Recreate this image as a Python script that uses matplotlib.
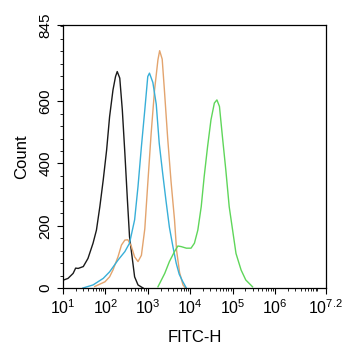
import numpy as np
import matplotlib
matplotlib.use('Agg')
import matplotlib.pyplot as plt
from matplotlib.ticker import FixedLocator, NullFormatter, MultipleLocator

plt.rcParams['font.family'] = ['Liberation Sans', 'DejaVu Sans']
plt.rcParams['mathtext.default'] = 'regular'

# histogram traces: log10(FITC-H) and count
black_log = [1.00, 1.12, 1.24, 1.30, 1.36, 1.48, 1.59, 1.71, 1.79, 1.87, 1.95, 2.03, 2.10, 2.18, 2.24,
             2.28, 2.34, 2.40, 2.46, 2.52, 2.57, 2.64, 2.69, 2.77, 2.89]
black_cnt = [25, 31, 47, 64, 63, 69, 95, 144, 186, 261, 347, 443, 550, 636, 679,
             695, 674, 572, 433, 283, 165, 90, 36, 10, 0]

cyan_log = [1.47, 1.71, 1.95, 2.10, 2.30, 2.46, 2.57, 2.69, 2.77, 2.85, 2.93, 3.00, 3.04, 3.12,
            3.20, 3.27, 3.35, 3.43, 3.51, 3.59, 3.67, 3.74, 3.82, 3.91]
cyan_cnt = [0, 10, 31, 52, 90, 117, 144, 219, 326, 454, 572, 679, 690, 660,
            590, 465, 370, 280, 195, 135, 80, 45, 22, 0]

orange_log = [1.75, 1.99, 2.10, 2.18, 2.30, 2.38, 2.46, 2.53, 2.61, 2.69, 2.77, 2.85, 2.93, 3.00,
              3.08, 3.16, 3.24, 3.28, 3.34, 3.39, 3.47, 3.55, 3.63, 3.68, 3.75, 3.83, 3.89]
orange_cnt = [5, 20, 36, 58, 101, 138, 154, 155, 135, 100, 85, 105, 190, 335,
              497, 636, 733, 762, 735, 640, 480, 340, 220, 120, 50, 10, 0]

green_log = [3.24, 3.40, 3.51, 3.63, 3.71, 3.79, 3.91, 4.02, 4.10, 4.18, 4.26, 4.33, 4.41, 4.49,
             4.57, 4.63, 4.69, 4.76, 4.84, 4.92, 5.00, 5.08, 5.20, 5.31, 5.47]
green_cnt = [4, 47, 85, 117, 135, 133, 128, 128, 144, 186, 261, 358, 454, 540,
             594, 604, 583, 486, 379, 261, 186, 111, 58, 26, 4]

xtick_exp = [1, 2, 3, 4, 5, 6, 7.2]
ytick_vals = [0, 200, 400, 600, 845]

fig = plt.figure(figsize=(3.42, 3.5), dpi=100)
ax = fig.add_axes([0.184, 0.177, 0.769, 0.752])

ax.plot(10 ** np.array(black_log), black_cnt, color='#1a1a1a', lw=1.0)
ax.plot(10 ** np.array(orange_log), orange_cnt, color='#e3a46e', lw=1.0)
ax.plot(10 ** np.array(cyan_log), cyan_cnt, color='#38afd8', lw=1.0)
ax.plot(10 ** np.array(green_log), green_cnt, color='#5fd65a', lw=1.0)

ax.set_xscale('log')
ax.set_xlim(10 ** 1, 10 ** 7.2)
ax.set_ylim(0, 845)

ax.xaxis.set_major_locator(FixedLocator([10 ** e for e in xtick_exp]))
ax.set_xticklabels(['$10^{%s}$' % (int(e) if e == int(e) else e) for e in xtick_exp])
ax.xaxis.set_minor_locator(FixedLocator([m * 10 ** d for d in range(1, 7) for m in range(2, 11)]))
ax.xaxis.set_minor_formatter(NullFormatter())

ax.set_yticks(ytick_vals)
ax.set_yticklabels([str(v) for v in ytick_vals], rotation=90, va='center')
ax.yaxis.set_minor_locator(MultipleLocator(40))

ax.tick_params(axis='x', which='major', length=4, width=0.8, labelsize=11.5, direction='out')
ax.tick_params(axis='y', which='major', length=4, width=0.8, labelsize=11, direction='out')
ax.tick_params(which='minor', length=2.5, width=0.6, direction='out')
for s in ax.spines.values():
    s.set_linewidth(0.9)

ax.set_xlabel('FITC-H', fontsize=12, labelpad=9)
ax.set_ylabel('Count', fontsize=12, labelpad=7)

fig.savefig('out.png', dpi=100)
